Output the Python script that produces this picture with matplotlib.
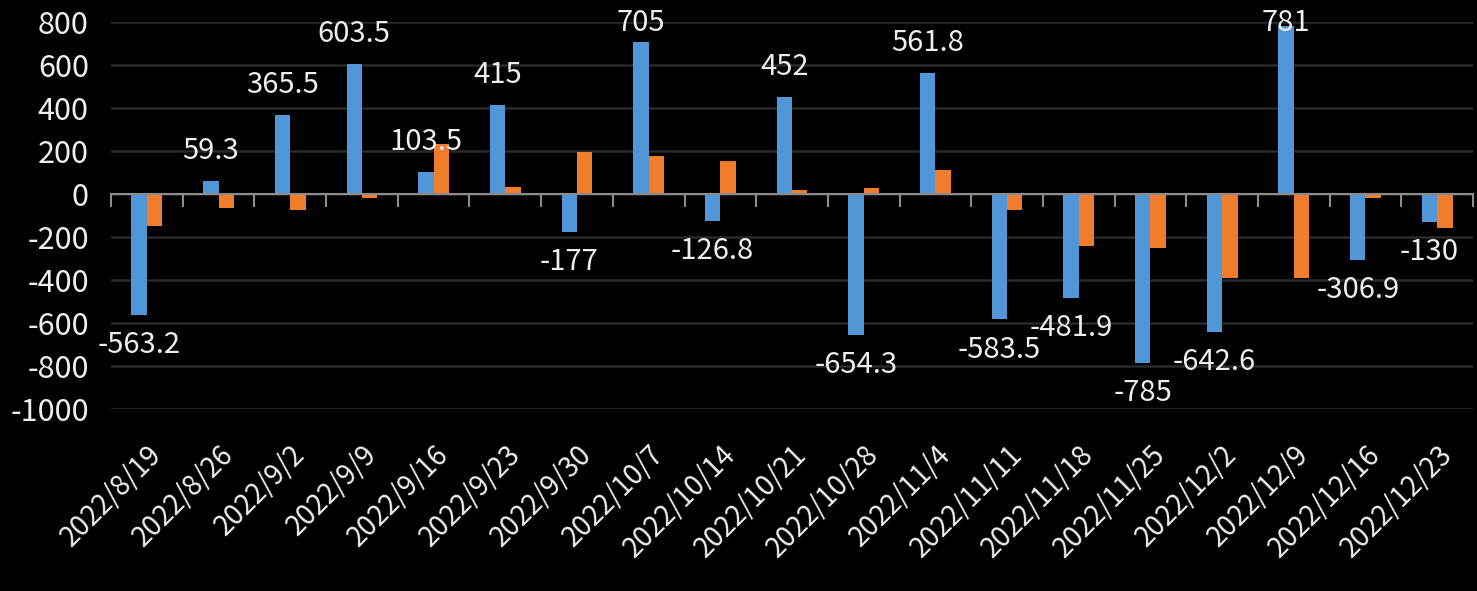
import numpy as np
import matplotlib
matplotlib.use("Agg")
import matplotlib.pyplot as plt

plt.rcParams['font.family'] = ['Noto Sans CJK TC', 'DejaVu Sans']
plt.rcParams['axes.unicode_minus'] = False

dates = ["2022/8/19", "2022/8/26", "2022/9/2", "2022/9/9", "2022/9/16", "2022/9/23",
         "2022/9/30", "2022/10/7", "2022/10/14", "2022/10/21", "2022/10/28", "2022/11/4",
         "2022/11/11", "2022/11/18", "2022/11/25", "2022/12/2", "2022/12/9", "2022/12/16",
         "2022/12/23"]
blue_vals = [-563.2, 59.3, 365.5, 603.5, 103.5, 415, -177, 705, -126.8, 452, -654.3,
             561.8, -583.5, -481.9, -785, -642.6, 781, -306.9, -130]
orange_vals = [-147, -65, -74, -20, 232, 33, 195, 177, 153, 19, 28, 112, -74, -242,
               -251, -389, -389, -17, -157]

txt = '#EEEEEE'
fig = plt.figure(figsize=(14.77, 5.91), dpi=100, facecolor='black')
ax = fig.add_axes([0.0752, 0.308, 0.9221, 0.6548], facecolor='black')

x = np.arange(len(dates))
w = 0.215
ax.bar(x - w/2, blue_vals, w, color='#5196D7', zorder=3)
ax.bar(x + w/2, orange_vals, w, color='#F07C2E', zorder=3)

# data labels on the blue series, pushed about 30 px past the bar end
for xi, v in zip(x, blue_vals):
    if v >= 0:
        ly = min(v + 140, 795)
    else:
        ly = v - 140
    ax.text(xi - w/2, ly, f"{v:g}", ha='center', va='center', color=txt,
            fontsize=21, fontweight='light', zorder=4)

ax.set_xlim(-0.5, len(dates) - 0.5)
ax.set_ylim(-1000, 800)
ax.set_yticks(np.arange(-1000, 801, 200))
ax.yaxis.grid(True, color='#2A2A2A', linewidth=1.8, zorder=0)
ax.axhline(0, color='#8C8C8C', linewidth=1.5, zorder=4)

for s in ax.spines.values():
    s.set_visible(False)

# category boundary ticks below the zero line
for b in np.arange(-0.5, len(dates), 1.0):
    ax.plot([b, b], [0, -55], color='#8C8C8C', linewidth=1.5, zorder=4, clip_on=False)

ax.set_xticks(x)
ax.set_xticklabels(dates, rotation=45, ha='right', rotation_mode='anchor')
ax.tick_params(axis='x', length=0, colors=txt, labelsize=20, pad=22)
ax.tick_params(axis='y', length=0, colors=txt, labelsize=22, pad=16)
for lab in ax.get_xticklabels() + ax.get_yticklabels():
    lab.set_fontweight('light')

fig.savefig("out.png", dpi=100, facecolor='black')
